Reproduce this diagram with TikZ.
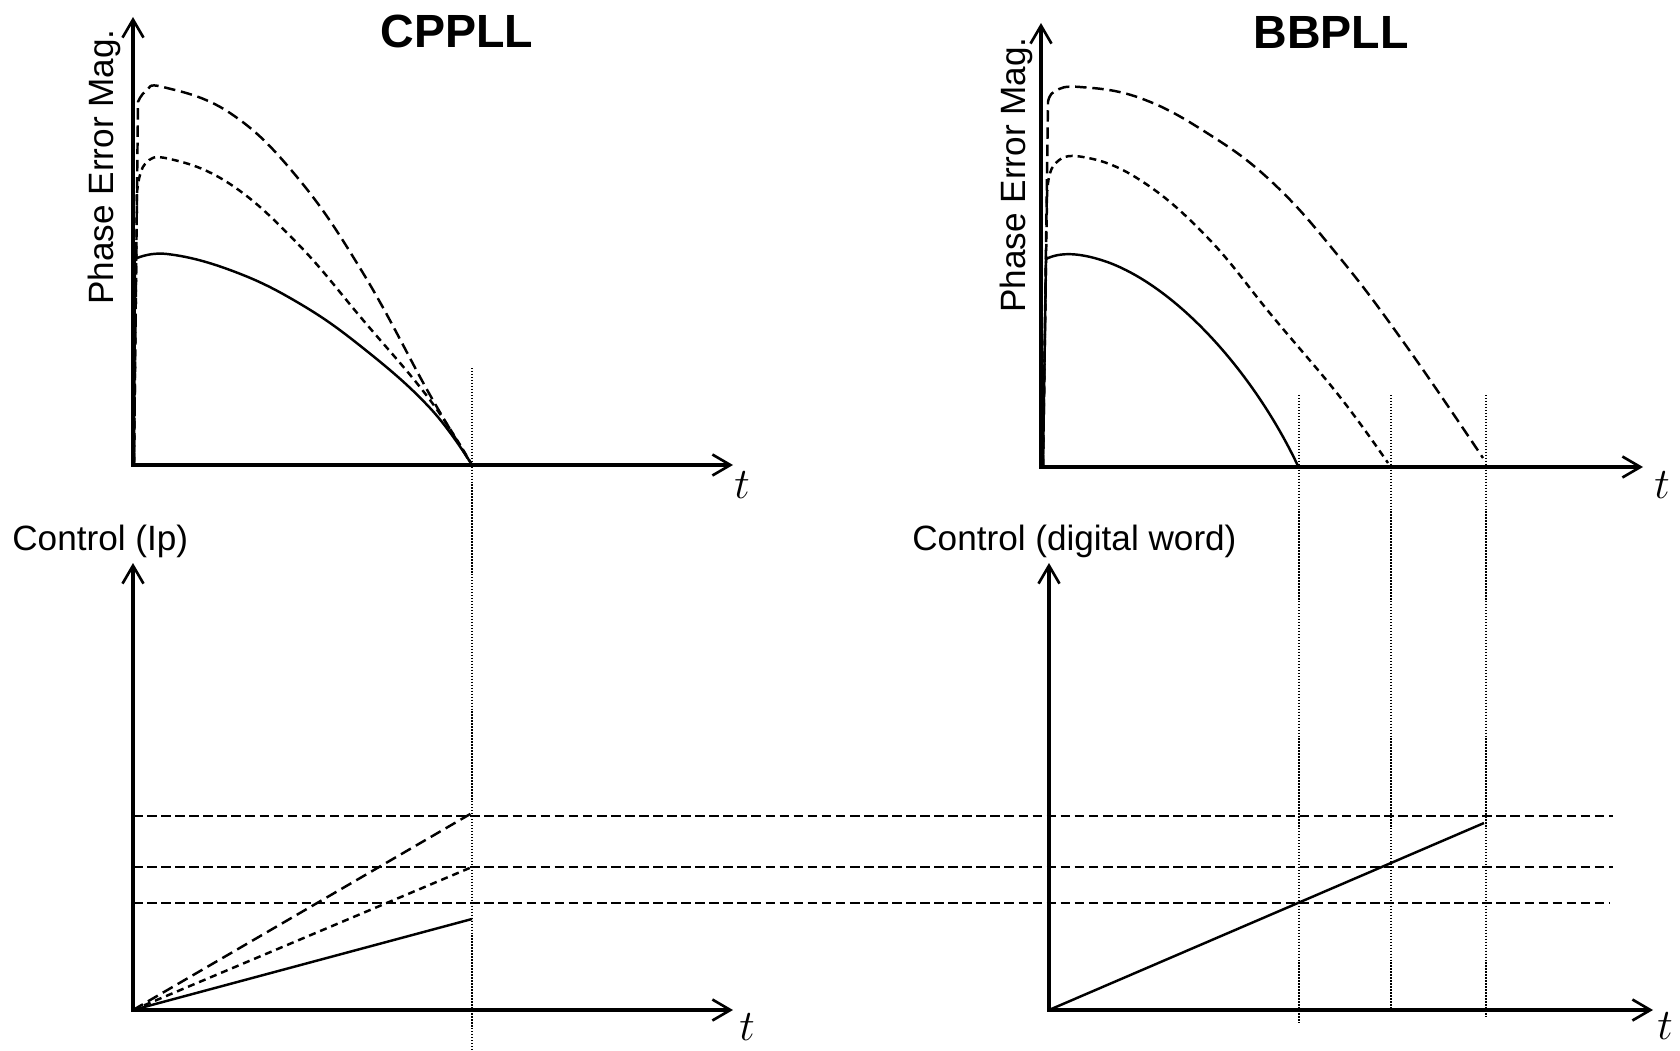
\documentclass[tikz,border=0pt]{standalone}
\usepackage{fontspec}
\setmainfont{Liberation Sans}
\usetikzlibrary{arrows.meta}

\begin{document}
\begin{tikzpicture}[x=0.02cm,y=-0.02cm,
  axis/.style={line width=2pt,line join=miter,
    {Straight Barb[length=3.6mm,width=4.2mm,line width=1.5pt]}-{Straight Barb[length=3.6mm,width=4.2mm,line width=1.5pt]}},
  solidc/.style={line width=1.4pt},
  longd/.style={line width=1.4pt,dash pattern=on 6.5pt off 3.3pt},
  shortd/.style={line width=1.4pt,dash pattern=on 4pt off 2.8pt},
  level/.style={line width=1.4pt,dash pattern=on 5.5pt off 2.5pt},
  mark line/.style={line width=1pt,dash pattern=on 0.8pt off 0.9pt},
  ttl/.style={inner sep=0pt,font=\fontsize{26.5}{30}\selectfont\bfseries},
  lbl/.style={inner sep=0pt,font=\fontsize{20}{24}\selectfont},
  tlbl/.style={inner sep=0pt,font=\fontsize{23}{27}\selectfont},
]
\useasboundingbox (0,0) rectangle (1680,1051);

% axes corners and tips
\coordinate (o1) at (133,465);
\coordinate (ytip1) at (133,17);
\coordinate (xtip1) at (733,465);
\coordinate (o2) at (1041,467);
\coordinate (ytip2) at (1041,23);
\coordinate (xtip2) at (1643,467);
\coordinate (o3) at (133,1010);
\coordinate (ytip3) at (133,563);
\coordinate (xtip3) at (733,1010);
\coordinate (o4) at (1049,1010);
\coordinate (ytip4) at (1049,563);
\coordinate (xtip4) at (1653,1010);

% lock times
\draw[mark line] (472,368) coordinate (lk1t) -- (472,1050) coordinate (lk1b);
\draw[mark line] (1299,395) coordinate (lk2t) -- (1299,1023) coordinate (lk2b);
\draw[mark line] (1391,395) coordinate (lk3t) -- (1391,1012) coordinate (lk3b);
\draw[mark line] (1486,395) coordinate (lk4t) -- (1486,1017) coordinate (lk4b);

% control levels
\draw[level] (133,816) coordinate (lv1l) -- (1613,816) coordinate (lv1r);
\draw[level] (133,867) coordinate (lv2l) -- (1613,867) coordinate (lv2r);
\draw[level] (133,903) coordinate (lv3l) -- (1610,903) coordinate (lv3r);

% CPPLL phase error
\draw[solidc] (134,464) -- (135,259) plot[smooth,tension=0.7] coordinates {(135,259) (167,254) (230,270) (297,302) (363,348) (430,408) (472,465)};
\draw[shortd] (134,464) -- (137,193) plot[smooth,tension=0.7] coordinates {(137,193) (145,164) (170,159) (230,184) (297,243) (363,320) (430,400) (472,465)};
\draw[longd] (134,464) -- (138,102) plot[smooth,tension=0.7] coordinates {(138,102) (146,91) (163,87) (230,113) (297,177) (363,273) (430,395) (472,465)};

% BBPLL phase error
\draw[solidc] (1043,466) -- (1046,259) .. controls (1060,252) and (1080,252) .. (1110,263)
  .. controls (1180,290) and (1255,375) .. (1298,466);
\draw[shortd] (1043,466) -- (1047,197) plot[smooth,tension=0.7] coordinates {(1047,197) (1054,165) (1083,157) (1140,180) (1207,237) (1273,317) (1340,397) (1388,463)};
\draw[longd] (1043,466) -- (1048,102) plot[smooth,tension=0.7] coordinates {(1048,102) (1055,91) (1080,87) (1140,98) (1207,133) (1273,183) (1340,258) (1407,347) (1483,458)};

% control ramps
\coordinate (cp1) at (472,813);
\coordinate (cp2) at (472,867);
\coordinate (cp3) at (472,919);
\coordinate (bb1) at (1484,823);
\draw[longd] (o3) -- (cp1);
\draw[shortd] (o3) -- (cp2);
\draw[solidc] (o3) -- (cp3);
\draw[solidc] (o4) -- (bb1);

% axes
\draw[axis] (ytip1) |- (xtip1);
\draw[axis] (ytip2) |- (xtip2);
\draw[axis] (ytip3) |- (xtip3);
\draw[axis] (ytip4) |- (xtip4);

% labels
\node[ttl] (cpttl) at (457,31) {CPPLL};
\node[ttl] (bbttl) at (1331,32) {BBPLL};
\node[lbl,rotate=90,anchor=base west] (pem1) at (113,305) {Phase Error Mag.};
\node[lbl,rotate=90,anchor=base west] (pem2) at (1025,313) {Phase Error Mag.};
\node[lbl,anchor=base west] (ctl1) at (12,550) {Control (Ip)};
\node[lbl,anchor=base west] (ctl2) at (912,550) {Control (digital word)};
\node[tlbl] (t1) at (742,485) {$t$};
\node[tlbl] (t2) at (1662,485) {$t$};
\node[tlbl] (t3) at (747,1027) {$t$};
\node[tlbl] (t4) at (1665,1026) {$t$};
\end{tikzpicture}
\end{document}
